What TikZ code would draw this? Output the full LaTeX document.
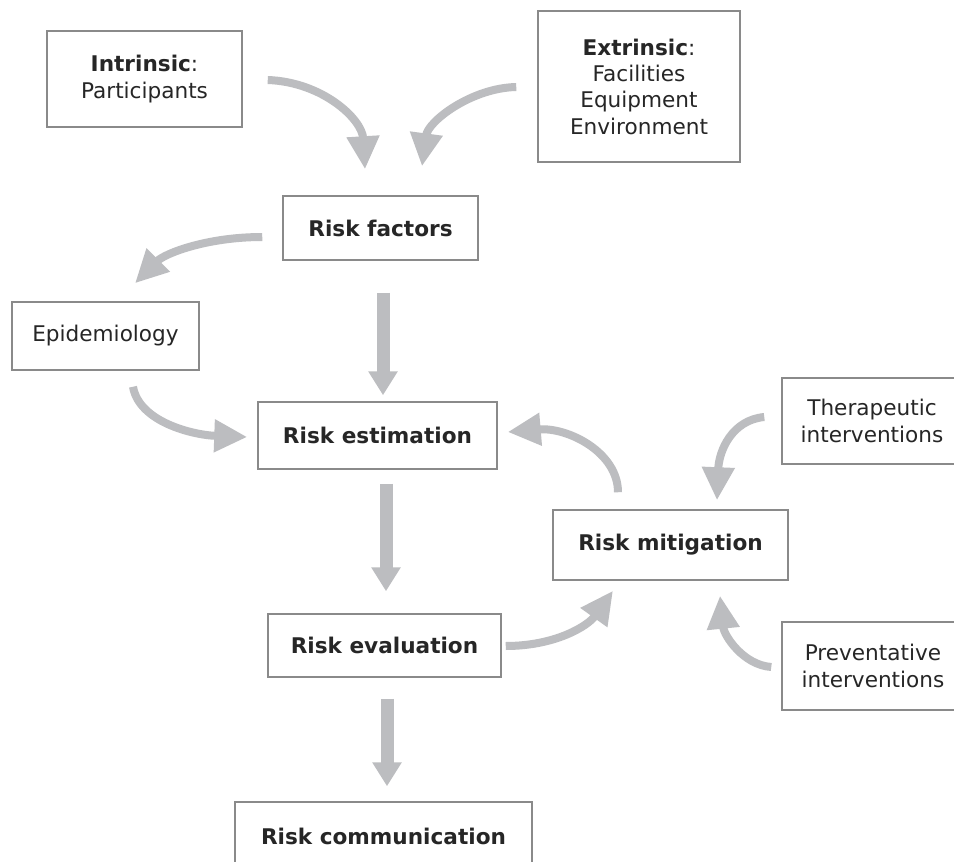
\documentclass[tikz,border=0pt]{standalone}
\usepackage{fontspec}
\setmainfont{DejaVu Sans}
\usetikzlibrary{arrows.meta,calc}
\definecolor{arrowgray}{HTML}{BCBDC0}
\definecolor{boxgray}{HTML}{8A8A8A}
\definecolor{textgray}{HTML}{262626}
\tikzset{
  box/.style={draw=boxgray,line width=1.5pt,fill=white,text=textgray,align=center,
    inner sep=0pt,font=\fontsize{21.6}{26.3}\selectfont},
  curvearrow/.style={draw=arrowgray,line width=8pt,
    -{Triangle[width=31pt,length=33pt]}},
  straightarrow/.style={draw=arrowgray,line width=13pt,
    -{Triangle[width=28pt,length=24pt]}}
}
\begin{document}
\begin{tikzpicture}[x=1pt,y=-1pt]
\useasboundingbox (0,0) rectangle (954,862);
\fill[white] (0,0) rectangle (954,862);
\clip (0,0) rectangle (954,862);

\node[box,minimum width=195pt,minimum height=96pt] (intr) at (144.5,79) {\textbf{Intrinsic}:\\Participants};
\node[box,minimum width=202pt,minimum height=151pt] (extr) at (639,86.5) {\textbf{Extrinsic}:\\Facilities\\Equipment\\Environment};
\node[box,minimum width=195pt,minimum height=64pt] (rf) at (380.5,228) {\textbf{Risk factors}};
\node[box,minimum width=187pt,minimum height=68pt] (epi) at (105.5,336) {Epidemiology};
\node[box,minimum width=239pt,minimum height=67pt] (re) at (377.5,435.5) {\textbf{Risk estimation}};
\node[box,minimum width=180pt,minimum height=86pt] (ther) at (872,421) {Therapeutic\\interventions};
\node[box,minimum width=235pt,minimum height=70pt] (rm) at (670.5,545) {\textbf{Risk mitigation}};
\node[box,minimum width=233pt,minimum height=63pt] (rev) at (384.5,645.5) {\textbf{Risk evaluation}};
\node[box,minimum width=182pt,minimum height=88pt] (prev) at (873,666) {Preventative\\interventions};
\node[box,minimum width=297pt,minimum height=68pt] (rc) at (383.5,836) {\textbf{Risk communication}};

% curved arrows
\draw[curvearrow] ($(intr.east)+(25,1)$) .. controls +(55,2) and +(-3,-50) .. ($(rf.north)+(-15.5,-26)$);
\draw[curvearrow] ($(extr.west)+(-21,0.5)$) .. controls +(-45,1) and +(6,-45) .. ($(rf.north)+(41.5,-29)$);
\draw[curvearrow] ($(rf.west)+(-20,9)$) .. controls +(-55,0) and +(30,-30) .. ($(epi.north)+(29.5,-18)$);
\draw[curvearrow] ($(epi.south)+(27.5,16)$) .. controls +(6,35) and +(-55,-2) .. ($(re.west)+(-10,1.5)$);
\draw[curvearrow] ($(rm.north)+(-52.5,-17)$) .. controls +(0,-40) and +(60,-5) .. ($(re.east)+(10,-3.5)$);
\draw[curvearrow] ($(ther.west)+(-17,-4)$) .. controls +(-32,3) and +(2,-50) .. ($(rm.north)+(46.5,-9)$);
\draw[curvearrow] ($(rev.east)+(4,0.5)$) .. controls +(50,0) and +(-25,35) .. ($(rm.south)+(-57.5,10)$);
\draw[curvearrow] ($(prev.west)+(-10,1)$) .. controls +(-28,-2) and +(4,40) .. ($(rm.south)+(49.5,15)$);

% straight arrows
\draw[straightarrow] ($(rf.south)+(2.5,32)$) -- ($(re.north)+(5.5,-6)$);
\draw[straightarrow] ($(re.south)+(8.5,14)$) -- ($(rev.north)+(1.5,-22)$);
\draw[straightarrow] ($(rev.south)+(2.5,21)$) -- ($(rc.north)+(3.5,-15)$);
\end{tikzpicture}
\end{document}
